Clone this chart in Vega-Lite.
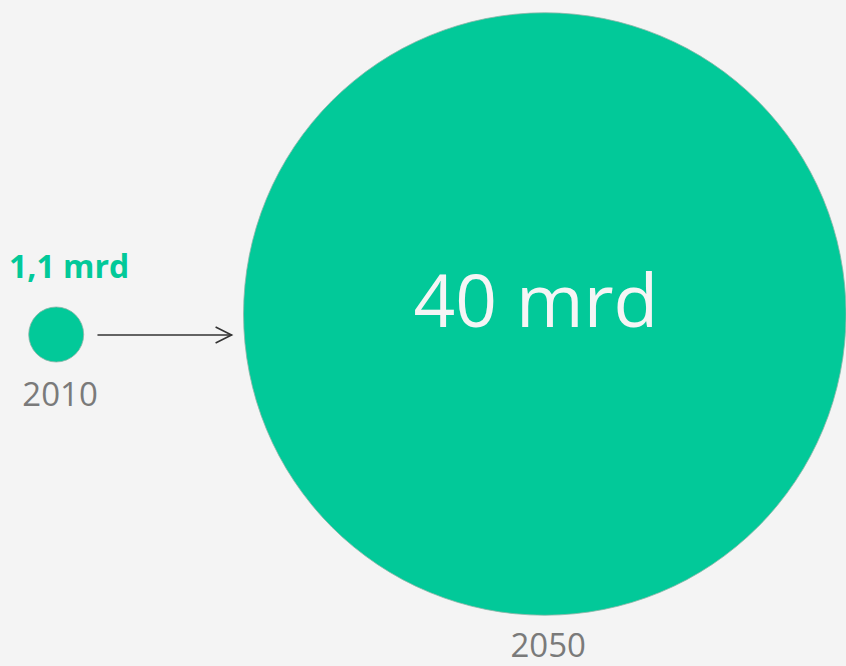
{
  "$schema": "https://vega.github.io/schema/vega-lite/v6.json",
  "width": 846,
  "height": 666,
  "autosize": {"type": "fit", "contains": "padding"},
  "padding": 0,
  "background": "#f4f4f4",
  "config": {"view": {"stroke": null}},
  "datasets": {
    "circles": [
      {"year": 2010, "value": 1.1, "pos": 334.5},
      {"year": 2050, "value": 40, "pos": 314}
    ],
    "yearLabels": [
      {"year": 2010.32, "pos": 406, "label": "2010"},
      {"year": 2050.28, "pos": 657, "label": "2050"}
    ],
    "smallValue": [
      {"year": 2011.06, "pos": 278, "label": "1,1 mrd"}
    ],
    "bigValue": [
      {"year": 2049.27, "pos": 327, "label": "40 mrd"}
    ],
    "arrow": [
      {"year": 2013.38, "year2": 2024.36, "pos": 335}
    ]
  },
  "encoding": {
    "x": {"field": "year", "type": "quantitative", "scale": {"domain": [2005.4, 2074.25], "nice": false, "zero": false}, "axis": null},
    "y": {"field": "pos", "type": "quantitative", "scale": {"domain": [0, 666], "reverse": true, "nice": false, "zero": false}, "axis": null}
  },
  "layer": [
    {
      "data": {"name": "circles"},
      "mark": {"type": "point", "shape": "circle", "filled": true, "fill": "#02c999", "fillOpacity": 1, "stroke": "#8fb5a8", "strokeWidth": 0.8, "opacity": 1},
      "encoding": {
        "size": {"field": "value", "type": "quantitative", "scale": {"type": "linear", "domain": [1.1, 40], "range": [3025, 363000], "zero": false}, "legend": null}
      }
    },
    {
      "data": {"name": "arrow"},
      "mark": {"type": "rule", "color": "#333333", "strokeWidth": 1.6},
      "encoding": {"x2": {"field": "year2"}}
    },
    {
      "data": {"name": "arrow"},
      "mark": {"type": "point", "shape": "M-1,-0.5L0,0L-1,0.5", "filled": false, "stroke": "#333333", "strokeWidth": 1.6, "size": 1024, "opacity": 1},
      "encoding": {"x": {"field": "year2", "type": "quantitative"}}
    },
    {
      "data": {"name": "yearLabels"},
      "mark": {"type": "text", "font": "Open Sans", "fontSize": 33, "fontWeight": 500, "color": "#7a7a7a", "align": "center", "baseline": "alphabetic"},
      "encoding": {"text": {"field": "label"}}
    },
    {
      "data": {"name": "smallValue"},
      "mark": {"type": "text", "font": "Open Sans", "fontSize": 32, "fontWeight": "bold", "color": "#02c999", "align": "center", "baseline": "alphabetic"},
      "encoding": {"text": {"field": "label"}}
    },
    {
      "data": {"name": "bigValue"},
      "mark": {"type": "text", "font": "Open Sans", "fontSize": 73, "fontWeight": 500, "color": "#f5f5f5", "align": "center", "baseline": "alphabetic"},
      "encoding": {"text": {"field": "label"}}
    }
  ]
}
